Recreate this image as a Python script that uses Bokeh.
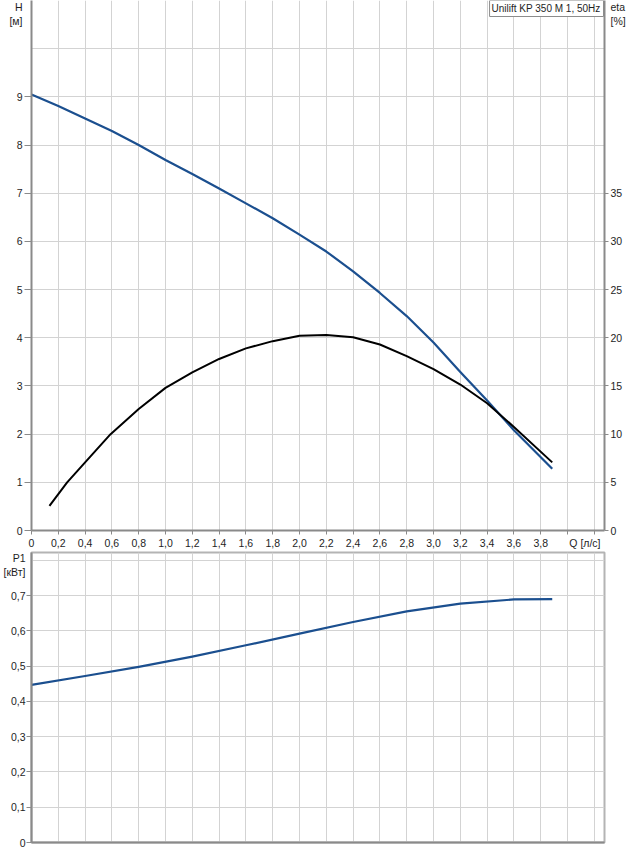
from bokeh.plotting import figure
from bokeh.models import Range1d, LinearAxis, FixedTicker, Label
from bokeh.layouts import column
from bokeh.embed import file_html
from bokeh.resources import INLINE

FONT = "Liberation Sans"
FS = "10.5px"
TXT = "#1e1e1e"
AXC = "#8a8a8a"
GRID = "#d3d3d3"
BLUE = "#1b4f8f"

# ---- data ----
q_h = [0, 0.2, 0.4, 0.6, 0.8, 1.0, 1.2, 1.4, 1.6, 1.8, 2.0, 2.2, 2.4, 2.6, 2.8, 3.0, 3.2, 3.4, 3.6, 3.886]
h_m = [9.05, 8.81, 8.55, 8.29, 8.00, 7.69, 7.40, 7.10, 6.79, 6.48, 6.14, 5.79, 5.38, 4.93, 4.45, 3.90, 3.29, 2.70, 2.08, 1.28]

q_eta = [0.134, 0.266, 0.40, 0.59, 0.8, 1.0, 1.2, 1.4, 1.6, 1.8, 2.0, 2.2, 2.4, 2.6, 2.8, 3.0, 3.2, 3.4, 3.6, 3.886]
eta_pct = [2.55, 5.0, 7.07, 10.0, 12.6, 14.8, 16.4, 17.8, 18.9, 19.65, 20.2, 20.3, 20.05, 19.3, 18.1, 16.75, 15.15, 13.2, 10.75, 7.07]

q_p1 = [0, 0.4, 0.8, 1.2, 1.6, 2.0, 2.4, 2.8, 3.2, 3.6, 3.886]
p1_kw = [0.447, 0.472, 0.498, 0.527, 0.559, 0.592, 0.625, 0.655, 0.677, 0.689, 0.690]

# tick marks / grid positions
q_ticks = [0, 0.2, 0.4, 0.6, 0.8, 1.0, 1.2, 1.4, 1.6, 1.8, 2.0, 2.2, 2.4, 2.6, 2.8, 3.0, 3.2, 3.4, 3.6, 3.8, 4.0, 4.2]
# labelled positions on the Q axis (last one carries the axis title)
q_label_ticks = [0, 0.2, 0.4, 0.6, 0.8, 1.0, 1.2, 1.4, 1.6, 1.8, 2.0, 2.2, 2.4, 2.6, 2.8, 3.0, 3.2, 3.4, 3.6, 3.8, 4.13]
q_labels = ["0", "0,2", "0,4", "0,6", "0,8", "1,0", "1,2", "1,4", "1,6", "1,8", "2,0", "2,2", "2,4", "2,6",
            "2,8", "3,0", "3,2", "3,4", "3,6", "3,8", "Q [л/с]"]

h_ticks = [0, 1, 2, 3, 4, 5, 6, 7, 8, 9]
h_label_ticks = [0, 1, 2, 3, 4, 5, 6, 7, 8, 9, 10.73]
h_labels = ["0", "1", "2", "3", "4", "5", "6", "7", "8", "9", "H\n[м]"]
h_grid = [0, 1, 2, 3, 4, 5, 6, 7, 8, 9, 10]

eta_ticks = [0, 5, 10, 15, 20, 25, 30, 35]
eta_label_ticks = [0, 5, 10, 15, 20, 25, 30, 35, 53.65]
eta_labels = ["0", "5", "10", "15", "20", "25", "30", "35", "eta\n[%]"]

p1_ticks = [0, 0.1, 0.2, 0.3, 0.4, 0.5, 0.6, 0.7]
p1_label_ticks = [0, 0.1, 0.2, 0.3, 0.4, 0.5, 0.6, 0.7, 0.79]
p1_labels = ["0", "0,1", "0,2", "0,3", "0,4", "0,5", "0,6", "0,7", "P1\n[кВт]"]
p1_grid = [0, 0.1, 0.2, 0.3, 0.4, 0.5, 0.6, 0.7, 0.8]

title_text = "Unilift KP 350 M 1, 50Hz"

Q_MAX = 4.276
H_MAX = 11.0
ETA_FACTOR = 5.0
P_MAX = 0.822


def style_axis(ax, major, labels, minor, tick_out, standoff, line_w=2):
    ax.ticker = FixedTicker(ticks=major, minor_ticks=minor)
    ax.major_label_overrides = {t: l for t, l in zip(major, labels)}
    ax.axis_line_color = AXC
    ax.axis_line_width = line_w
    ax.major_tick_line_color = None
    ax.major_tick_out = 0
    ax.major_tick_in = 0
    ax.minor_tick_line_color = AXC if tick_out > 0 else None
    ax.minor_tick_line_width = 1
    ax.minor_tick_out = tick_out
    ax.minor_tick_in = 0
    ax.major_label_text_font = FONT
    ax.major_label_text_font_size = FS
    ax.major_label_text_color = TXT
    ax.major_label_standoff = standoff


# ---- top chart: H and eta ----
p = figure(width=628, height=551, x_range=Range1d(0, Q_MAX), y_range=Range1d(0, H_MAX),
           output_backend="svg", toolbar_location=None,
           min_border_left=31, min_border_right=24, min_border_top=0, min_border_bottom=19)
p.outline_line_color = None
p.background_fill_color = "white"
p.border_fill_color = "white"
p.extra_y_ranges = {"eta": Range1d(0, H_MAX * ETA_FACTOR)}

style_axis(p.xaxis[0], q_label_ticks, q_labels, q_ticks, 4, 2)
style_axis(p.yaxis[0], h_label_ticks, h_labels, h_ticks, 7, 2)

eta_axis = LinearAxis(y_range_name="eta")
style_axis(eta_axis, eta_label_ticks, eta_labels, eta_ticks, 4, 2)
p.add_layout(eta_axis, "right")

p.xgrid.ticker = FixedTicker(ticks=q_ticks)
p.ygrid.ticker = FixedTicker(ticks=h_grid)
for g in (p.xgrid[0], p.ygrid[0]):
    g.grid_line_color = GRID
    g.grid_line_width = 1

p.line(q_h, h_m, line_color=BLUE, line_width=2.2, line_join="round")
p.line(q_eta, eta_pct, y_range_name="eta", line_color="black", line_width=2, line_join="round")

p.add_layout(Label(x=Q_MAX, y=H_MAX, text=title_text, text_align="right", text_baseline="top",
                   text_font=FONT, text_font_size="10px", text_color=TXT, x_offset=-1,
                   background_fill_color="white", border_line_color="#8c8c8c", border_line_width=1,
                   padding=(2, 3, 2, 3)))

# ---- bottom chart: P1 ----
p2 = figure(width=628, height=300, x_range=Range1d(0, Q_MAX), y_range=Range1d(0, P_MAX),
            output_backend="svg", toolbar_location=None,
            min_border_left=31, min_border_right=24, min_border_top=1, min_border_bottom=9)
p2.outline_line_color = "#b4b4b4"
p2.outline_line_width = 2
p2.background_fill_color = "white"
p2.border_fill_color = "white"

p2.xaxis.ticker = FixedTicker(ticks=[])
p2.xaxis.axis_line_color = AXC
p2.xaxis.axis_line_width = 2
p2.xaxis.major_tick_line_color = None
p2.xaxis.minor_tick_line_color = None
p2.xaxis.major_label_standoff = 0
style_axis(p2.yaxis[0], p1_label_ticks, p1_labels, p1_ticks, 5, 1)

p2.xgrid.ticker = FixedTicker(ticks=q_ticks)
p2.ygrid.ticker = FixedTicker(ticks=p1_grid)
for g in (p2.xgrid[0], p2.ygrid[0]):
    g.grid_line_color = GRID
    g.grid_line_width = 1

p2.line(q_p1, p1_kw, line_color=BLUE, line_width=2.2, line_join="round")

layout = column(p, p2, spacing=0)
open("out.html", "w").write(file_html(layout, INLINE))
